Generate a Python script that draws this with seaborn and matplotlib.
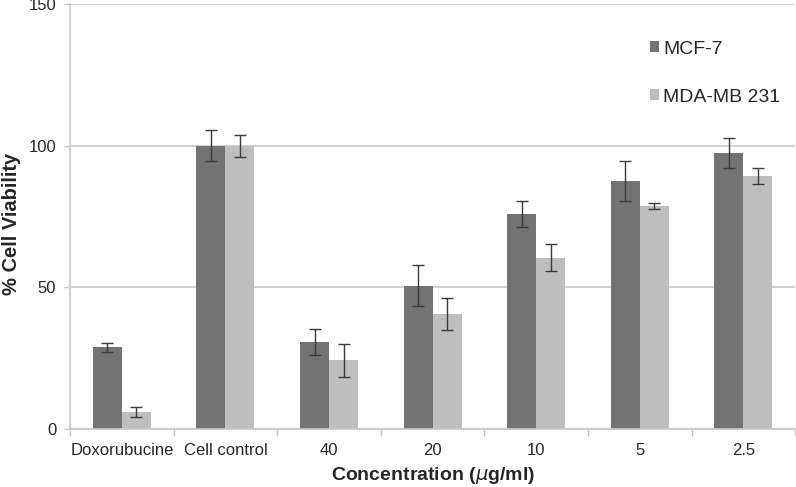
import numpy as np
import pandas as pd
import matplotlib
matplotlib.use('Agg')
import matplotlib.pyplot as plt
import seaborn as sns

# Data
categories = ['Doxorubucine', 'Cell control', '40', '20', '10', '5', '2.5']
mcf7 = [28.8, 100.0, 30.7, 50.6, 75.9, 87.5, 97.4]
mcf7_err = [1.7, 5.6, 4.6, 7.3, 4.6, 6.9, 5.2]
mda = [6.1, 100.0, 24.2, 40.6, 60.4, 78.8, 89.2]
mda_err = [1.8, 3.9, 5.8, 5.5, 4.8, 1.1, 2.8]
series = ['MCF-7', 'MDA-MB 231']

sns.set_style("white")
plt.rcParams['font.family'] = ['Liberation Sans', 'DejaVu Sans']

df = pd.DataFrame({
    'cat': categories * 2,
    'val': mcf7 + mda,
    'line': [series[0]] * len(categories) + [series[1]] * len(categories),
})

fig = plt.figure(figsize=(7.96, 4.87), dpi=100)
ax = fig.add_axes([0.088, 0.119, 0.911, 0.873])

palette = {series[0]: '#737373', series[1]: '#bebebe'}
sns.barplot(data=df, x='cat', y='val', hue='line', order=categories,
            hue_order=series, palette=palette, width=0.56, gap=0,
            errorbar=None, saturation=1, linewidth=0, ax=ax, zorder=2)

# error bars at bar centres
errs = mcf7_err + mda_err
vals = mcf7 + mda
bars = [p for p in ax.patches if p.get_height() > 0][:len(vals)]
for p, v, e in zip(bars, vals, errs):
    ax.errorbar(p.get_x() + p.get_width() / 2, v, yerr=e, fmt='none',
                ecolor='#3a3a3a', elinewidth=1, capsize=4, capthick=1, zorder=3)

ax.set_ylim(0, 150)
ax.set_xlim(-0.5, len(categories) - 0.5)
ax.set_yticks([0, 50, 100, 150])
ax.yaxis.grid(True, color='#c8c8c8', linewidth=1.2)
ax.set_axisbelow(True)
ax.tick_params(axis='y', left=True, length=4, color='#c8c8c8', width=1,
               labelsize=12, pad=6)
ax.tick_params(axis='x', which='major', length=0, labelsize=12, pad=10)
ax.set_xticks(np.arange(-0.5, len(categories)), minor=True)
ax.tick_params(axis='x', which='minor', bottom=True, length=5,
               color='#c8c8c8', width=1)

for s in ['top', 'right']:
    ax.spines[s].set_visible(False)
ax.spines['left'].set_color('#c8c8c8')
ax.spines['bottom'].set_color('#c8c8c8')
ax.spines['left'].set_linewidth(1.2)
ax.spines['bottom'].set_linewidth(1.2)

ax.set_xlabel(r'Concentration ($\mu$g/ml)', fontsize=14, fontweight='bold', labelpad=5)
ax.set_ylabel('% Cell Viability', fontsize=14.5, fontweight='bold')
ax.yaxis.set_label_coords(-0.068, 0.482)

leg = ax.legend(loc='upper left', bbox_to_anchor=(0.775, 0.955), frameon=False,
                fontsize=14, handlelength=0.5, handleheight=0.5,
                handletextpad=0.2, labelspacing=1.6)

fig.savefig('out.png', dpi=100)
